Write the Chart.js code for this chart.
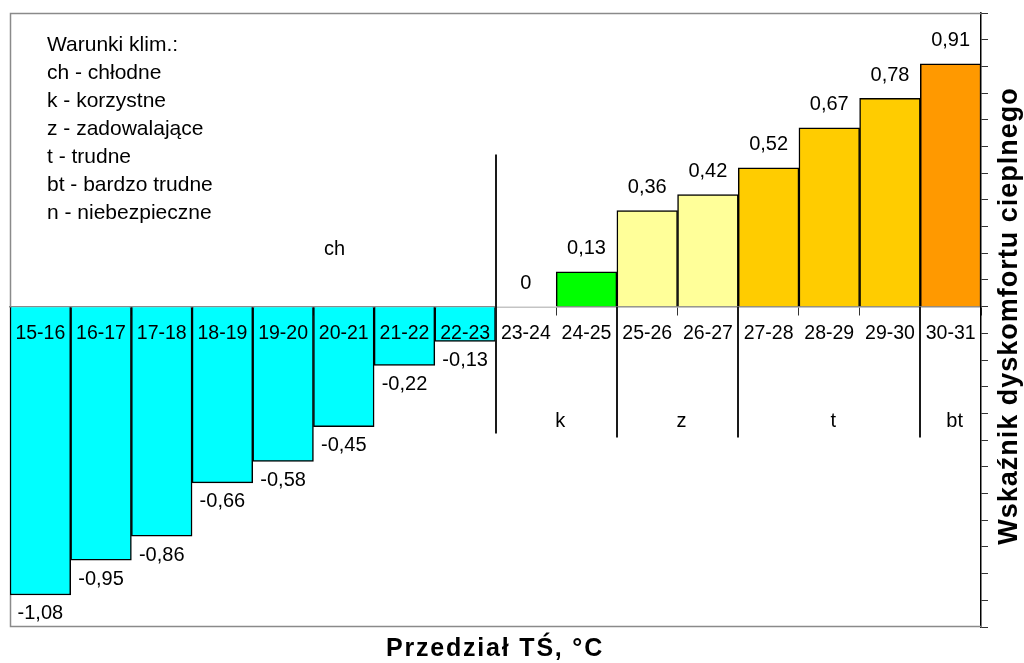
<!DOCTYPE html>
<html>
<head>
<meta charset="utf-8">
<script src="https://cdn.jsdelivr.net/npm/chart.js@4"></script>
<style>
  html, body { margin: 0; padding: 0; background: #fff; }
  #wrap { width: 1024px; height: 663px; position: relative; }
</style>
</head>
<body>
<div id="wrap"><canvas id="c" width="1024" height="663"></canvas></div>
<script>
// Temperature ranges (TŚ, °C) and the heat-discomfort index for each
const categories = ['15-16', '16-17', '17-18', '18-19', '19-20', '20-21', '21-22', '22-23',
                    '23-24', '24-25', '25-26', '26-27', '27-28', '28-29', '29-30', '30-31'];
const values = [-1.08, -0.95, -0.86, -0.66, -0.58, -0.45, -0.22, -0.13,
                0, 0.13, 0.36, 0.42, 0.52, 0.67, 0.78, 0.91];
const barColors = ['#00FFFF', '#00FFFF', '#00FFFF', '#00FFFF', '#00FFFF', '#00FFFF', '#00FFFF', '#00FFFF',
                   '#FFFFFF', '#00FF00', '#FFFF99', '#FFFF99', '#FFCC00', '#FFCC00', '#FFCC00', '#FF9900'];

// Climate condition zones: name and index of the first range in the zone
const zoneNames = ['ch', 'k', 'z', 't', 'bt'];
const zoneStarts = [0, 8, 10, 12, 15];

const legendLines = ['Warunki klim.:', 'ch - chłodne', 'k - korzystne', 'z - zadowalające',
                     't - trudne', 'bt - bardzo trudne', 'n - niebezpieczne'];
const yTitle = 'Wskaźnik dyskomfortu cieplnego';
const xTitle = 'Przedział TŚ, °C';

const FONT = '"Liberation Sans", Arial, sans-serif';
Chart.defaults.font.family = FONT;
Chart.defaults.color = '#000';

const fmt = v => String(v).replace('.', ',');

// Grey frame around the plot area
const framePlugin = {
  id: 'frame',
  beforeDatasetsDraw(chart) {
    const a = chart.chartArea, ctx = chart.ctx;
    ctx.save();
    ctx.strokeStyle = '#8a8a8a';
    ctx.lineWidth = 1.5;
    ctx.beginPath();
    ctx.moveTo(a.right, a.top + 0.5);
    ctx.lineTo(a.left + 0.5, a.top + 0.5);
    ctx.lineTo(a.left + 0.5, a.bottom - 0.5);
    ctx.lineTo(a.right, a.bottom - 0.5);
    ctx.stroke();
    ctx.restore();
  }
};

// Value labels, zone separators, zone names, notes and titles
const annotatePlugin = {
  id: 'annotate',
  afterDraw(chart) {
    const ctx = chart.ctx, xs = chart.scales.x, ys = chart.scales.y, a = chart.chartArea;
    const meta = chart.getDatasetMeta(0);
    ctx.save();
    ctx.fillStyle = '#000';
    ctx.textAlign = 'center';
    ctx.textBaseline = 'middle';
    ctx.font = '20px ' + FONT;
    meta.data.forEach((bar, i) => {
      const v = values[i];
      const y = v >= 0 ? bar.y - 23 : bar.y + 19;
      ctx.fillText(fmt(v), bar.x, y);
    });

    // zone separators
    const boundary = s => (xs.getPixelForValue(s - 1) + xs.getPixelForValue(s)) / 2;
    ctx.strokeStyle = '#1a1a1a';
    ctx.lineWidth = 2;
    for (let z = 1; z < zoneStarts.length; z++) {
      const bx = Math.round(boundary(zoneStarts[z]));
      const top = z === 1 ? ys.getPixelForValue(0.57) : ys.getPixelForValue(0);
      const bottom = ys.getPixelForValue(z === 1 ? -0.475 : -0.49);
      ctx.beginPath();
      ctx.moveTo(bx, top);
      ctx.lineTo(bx, bottom);
      ctx.stroke();
    }

    // zone names
    ctx.font = '20px ' + FONT;
    zoneNames.forEach((name, z) => {
      if (z === 0) {
        ctx.fillText(name, xs.getPixelForValue(4.85), ys.getPixelForValue(0.215));
      } else {
        const start = boundary(zoneStarts[z]);
        const end = z + 1 < zoneStarts.length ? boundary(zoneStarts[z + 1]) : a.right;
        ctx.fillText(name, (start + end) / 2 + 4, ys.getPixelForValue(-0.43));
      }
    });

    // notes
    ctx.textAlign = 'left';
    ctx.font = '21px ' + FONT;
    legendLines.forEach((line, i) => {
      ctx.fillText(line, 47, 45 + i * 28.1);
    });

    // x axis title
    ctx.textAlign = 'center';
    ctx.font = 'bold 25px ' + FONT;
    ctx.letterSpacing = '1.8px';
    ctx.fillText(xTitle, 495, 649);

    // y axis title, reading upward on the right
    ctx.font = 'bold 27px ' + FONT;
    ctx.letterSpacing = '1px';
    ctx.translate(1010, 316);
    ctx.rotate(-Math.PI / 2);
    ctx.fillText(yTitle, 0, 0);
    ctx.restore();
  }
};

new Chart(document.getElementById('c'), {
  type: 'bar',
  data: {
    labels: categories,
    datasets: [{
      data: values,
      backgroundColor: barColors,
      borderColor: '#000',
      borderWidth: values.map(v => (v === 0 ? 0 : 1.5)),
      barPercentage: 1,
      categoryPercentage: 1
    }]
  },
  options: {
    responsive: false,
    animation: false,
    devicePixelRatio: 1,
    layout: { padding: { left: 10, top: 13, bottom: 36, right: 0 } },
    plugins: { legend: { display: false }, tooltip: { enabled: false } },
    scales: {
      x: {
        type: 'category',
        position: { y: 0 },
        offset: true,
        grid: { offset: true, drawOnChartArea: false, drawTicks: true, tickLength: 8, color: '#333' },
        border: { color: '#8a8a8a', width: 1.5 },
        ticks: { z: 1, color: '#000', font: { size: 19.5 }, padding: 7, maxRotation: 0, autoSkip: false }
      },
      y: {
        position: 'right',
        min: -1.2,
        max: 1.1,
        ticks: { display: false, stepSize: 0.1 },
        grid: { drawOnChartArea: false, drawTicks: true, tickLength: 7, color: '#333' },
        border: { color: '#000', width: 1.5 },
        afterFit(scale) { scale.width = 43; }
      }
    }
  },
  plugins: [framePlugin, annotatePlugin]
});
</script>
</body>
</html>
